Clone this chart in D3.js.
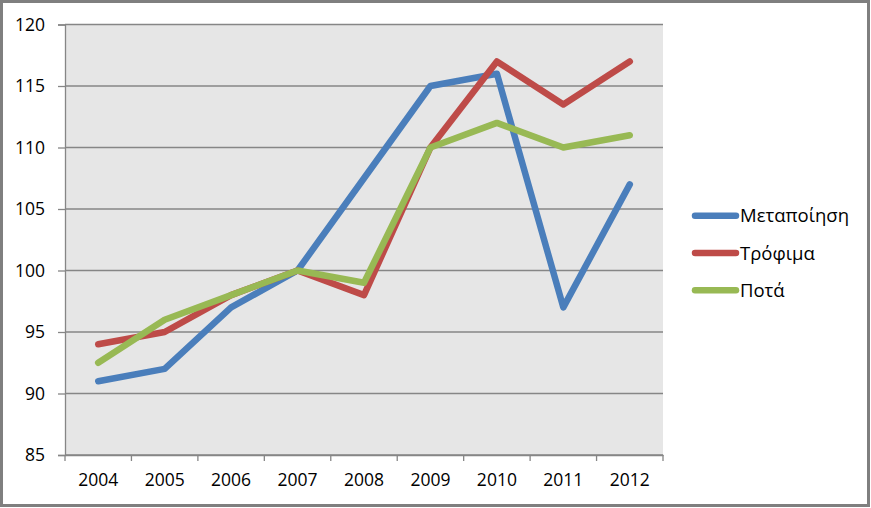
<!DOCTYPE html>
<html><head><meta charset="utf-8">
<script src="https://cdn.jsdelivr.net/npm/d3@7"></script>
<style>body{margin:0;background:#fff}svg{display:block}</style>
</head><body>
<script>
const years = ["2004","2005","2006","2007","2008","2009","2010","2011","2012"];
const metapoiisi = [91, 92, 97, 100, 107.5, 115, 116, 97, 107];
const trofima = [94, 95, 98, 100, 98, 110, 117, 113.5, 117];
const pota = [92.5, 96, 98, 100, 99, 110, 112, 110, 111];
const yTicks = [85, 90, 95, 100, 105, 110, 115, 120];
const seriesNames = ["Μεταποίηση", "Τρόφιμα", "Ποτά"];
const seriesColors = ["#4a7ebb", "#be4b48", "#98b954"];
const seriesValues = [metapoiisi, trofima, pota];

const W = 871, H = 508;
const svg = d3.select("body").append("svg").attr("width", W).attr("height", H);
const font = "'Open Sans', 'Liberation Sans', Arial, sans-serif";

svg.append("rect").attr("x",1.5).attr("y",1.5).attr("width",W-4).attr("height",H-4)
  .attr("fill","#fff").attr("stroke","#7f7f7f").attr("stroke-width",3);

const L = 65, R = 663, T = 24.5, B = 455;
const x = d3.scaleBand().domain(years).range([L, R]);
const y = d3.scaleLinear().domain([85, 120]).range([B, T]);

svg.append("rect").attr("x",L).attr("y",T).attr("width",R-L).attr("height",B-T).attr("fill","#e6e6e6");

// grid
svg.append("g").selectAll("line").data(yTicks).join("line")
  .attr("x1",L).attr("x2",R).attr("y1",d=>y(d)).attr("y2",d=>y(d))
  .attr("stroke","#868686").attr("stroke-width",1.3);

// y axis
const ya = svg.append("g").attr("transform",`translate(${L},0)`)
  .call(d3.axisLeft(y).tickValues(yTicks).tickSize(7).tickPadding(13));
ya.select(".domain").attr("stroke","#868686").attr("stroke-width",1.3);
ya.selectAll(".tick line").attr("stroke","#868686").attr("stroke-width",1.3);
ya.selectAll("text").attr("font-family",font).attr("font-size",17.5).attr("fill","#000");

// x axis
const xa = svg.append("g").attr("transform",`translate(0,${B})`)
  .call(d3.axisBottom(x).tickSize(0).tickPadding(19));
xa.select(".domain").attr("stroke","#868686").attr("stroke-width",1.3);
xa.selectAll("text").attr("font-family",font).attr("font-size",17.5).attr("fill","#000");
xa.append("g").selectAll("line").data(years.concat(["_end"])).join("line")
  .attr("x1",(d,i)=>L + i*x.step()).attr("x2",(d,i)=>L + i*x.step())
  .attr("y1",0).attr("y2",6).attr("stroke","#868686").attr("stroke-width",1.3);

const line = d3.line().x((d,i)=>x(years[i]) + x.bandwidth()/2).y(d=>y(d));
seriesValues.forEach((vals,k)=>{
  svg.append("path").datum(vals).attr("d",line).attr("fill","none")
    .attr("stroke",seriesColors[k]).attr("stroke-width",6.5)
    .attr("stroke-linecap","round").attr("stroke-linejoin","round");
});

// legend
const lg = svg.append("g");
seriesNames.forEach((n,k)=>{
  const ly = 215.7 + k*37.3;
  lg.append("line").attr("x1",695).attr("x2",736).attr("y1",ly).attr("y2",ly)
    .attr("stroke",seriesColors[k]).attr("stroke-width",6.5).attr("stroke-linecap","round");
  lg.append("text").attr("x",740).attr("y",ly).attr("dy","0.36em")
    .attr("font-family",font).attr("font-size",18.5).text(n);
});
</script>
</body></html>
